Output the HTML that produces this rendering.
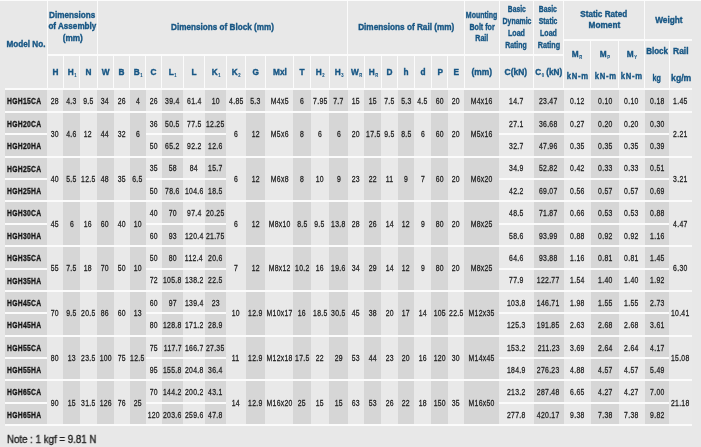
<!DOCTYPE html><html><head><meta charset="utf-8"><style>
html,body{margin:0;padding:0}
body{will-change:transform;width:701px;height:447px;background:#e8e8e8;position:relative;overflow:hidden;font-family:"Liberation Sans",sans-serif}
.r{position:absolute}
.t{position:absolute;width:120px;height:0;display:flex;justify-content:center;align-items:center;white-space:nowrap}
.t span{display:block;position:relative;flex:none;line-height:12px;height:12px}
.d span{font-size:9.8px;color:#1e1e1e;transform:scaleX(0.7);letter-spacing:0.4px;-webkit-text-stroke:0.3px #1e1e1e;top:0.7px}
.t.m{justify-content:flex-start;width:60px}
.m span{font-size:9.9px;color:#161616;font-weight:bold;transform:scaleX(0.685);letter-spacing:0.45px;transform-origin:0 50%;-webkit-text-stroke:0.35px #161616;top:0.8px}
.h span{font-size:9.6px;color:#175684;font-weight:bold;-webkit-text-stroke:0.4px #175684}
sub{font-size:4.8px;vertical-align:-1.8px;line-height:0;margin-left:0.6px;-webkit-text-stroke:0.1px #175684}
.note{position:absolute;left:6.6px;top:432px;font-size:10.8px;line-height:14px;color:#222;-webkit-text-stroke:0.35px #222;transform:scaleX(0.9);transform-origin:0 0;white-space:nowrap}
</style></head><body>
<div class="r" style="left:5px;top:90px;width:42px;height:334px;background:#d6d6d6"></div>
<div class="r" style="left:47px;top:90px;width:16px;height:334px;background:#e9e9e9"></div>
<div class="r" style="left:63px;top:90px;width:17px;height:334px;background:#d6d6d6"></div>
<div class="r" style="left:80px;top:90px;width:17px;height:334px;background:#e9e9e9"></div>
<div class="r" style="left:97px;top:90px;width:17px;height:334px;background:#d6d6d6"></div>
<div class="r" style="left:114px;top:90px;width:16px;height:334px;background:#e9e9e9"></div>
<div class="r" style="left:130px;top:90px;width:16px;height:334px;background:#d6d6d6"></div>
<div class="r" style="left:146px;top:90px;width:16px;height:334px;background:#e9e9e9"></div>
<div class="r" style="left:162px;top:90px;width:21px;height:334px;background:#d6d6d6"></div>
<div class="r" style="left:183px;top:90px;width:22px;height:334px;background:#e9e9e9"></div>
<div class="r" style="left:205px;top:90px;width:21px;height:334px;background:#d6d6d6"></div>
<div class="r" style="left:226px;top:90px;width:20px;height:334px;background:#e9e9e9"></div>
<div class="r" style="left:246px;top:90px;width:19px;height:334px;background:#d6d6d6"></div>
<div class="r" style="left:265px;top:90px;width:28px;height:334px;background:#e9e9e9"></div>
<div class="r" style="left:293px;top:90px;width:18px;height:334px;background:#d6d6d6"></div>
<div class="r" style="left:311px;top:90px;width:18px;height:334px;background:#e9e9e9"></div>
<div class="r" style="left:329px;top:90px;width:19px;height:334px;background:#d6d6d6"></div>
<div class="r" style="left:348px;top:90px;width:16px;height:334px;background:#e9e9e9"></div>
<div class="r" style="left:364px;top:90px;width:17px;height:334px;background:#d6d6d6"></div>
<div class="r" style="left:381px;top:90px;width:17px;height:334px;background:#e9e9e9"></div>
<div class="r" style="left:398px;top:90px;width:16px;height:334px;background:#d6d6d6"></div>
<div class="r" style="left:414px;top:90px;width:17px;height:334px;background:#e9e9e9"></div>
<div class="r" style="left:431px;top:90px;width:17px;height:334px;background:#d6d6d6"></div>
<div class="r" style="left:448px;top:90px;width:16px;height:334px;background:#e9e9e9"></div>
<div class="r" style="left:464px;top:90px;width:35px;height:334px;background:#d6d6d6"></div>
<div class="r" style="left:499px;top:90px;width:35px;height:334px;background:#e9e9e9"></div>
<div class="r" style="left:534px;top:90px;width:30px;height:334px;background:#d6d6d6"></div>
<div class="r" style="left:564px;top:90px;width:27px;height:334px;background:#e9e9e9"></div>
<div class="r" style="left:591px;top:90px;width:28px;height:334px;background:#d6d6d6"></div>
<div class="r" style="left:619px;top:90px;width:26px;height:334px;background:#e9e9e9"></div>
<div class="r" style="left:645px;top:90px;width:24px;height:334px;background:#d6d6d6"></div>
<div class="r" style="left:669px;top:90px;width:23px;height:334px;background:#e9e9e9"></div>
<div class="r" style="left:5px;top:88px;width:687px;height:2px;background:#fbfbfb"></div>
<div class="r" style="left:5px;top:111px;width:687px;height:2px;background:#fbfbfb"></div>
<div class="r" style="left:5px;top:156px;width:687px;height:2px;background:#fbfbfb"></div>
<div class="r" style="left:205px;top:133px;width:21px;height:2px;background:#fbfbfb"></div>
<div class="r" style="left:499px;top:133px;width:35px;height:2px;background:#fbfbfb"></div>
<div class="r" style="left:162px;top:133px;width:21px;height:2px;background:#fbfbfb"></div>
<div class="r" style="left:534px;top:133px;width:30px;height:2px;background:#fbfbfb"></div>
<div class="r" style="left:591px;top:133px;width:28px;height:2px;background:#fbfbfb"></div>
<div class="r" style="left:619px;top:133px;width:26px;height:2px;background:#fbfbfb"></div>
<div class="r" style="left:645px;top:133px;width:24px;height:2px;background:#fbfbfb"></div>
<div class="r" style="left:564px;top:133px;width:27px;height:2px;background:#fbfbfb"></div>
<div class="r" style="left:146px;top:133px;width:16px;height:2px;background:#fbfbfb"></div>
<div class="r" style="left:5px;top:133px;width:42px;height:2px;background:#fbfbfb"></div>
<div class="r" style="left:183px;top:133px;width:22px;height:2px;background:#fbfbfb"></div>
<div class="r" style="left:5px;top:200px;width:687px;height:2px;background:#fbfbfb"></div>
<div class="r" style="left:205px;top:178px;width:21px;height:2px;background:#fbfbfb"></div>
<div class="r" style="left:499px;top:178px;width:35px;height:2px;background:#fbfbfb"></div>
<div class="r" style="left:162px;top:178px;width:21px;height:2px;background:#fbfbfb"></div>
<div class="r" style="left:534px;top:178px;width:30px;height:2px;background:#fbfbfb"></div>
<div class="r" style="left:591px;top:178px;width:28px;height:2px;background:#fbfbfb"></div>
<div class="r" style="left:619px;top:178px;width:26px;height:2px;background:#fbfbfb"></div>
<div class="r" style="left:645px;top:178px;width:24px;height:2px;background:#fbfbfb"></div>
<div class="r" style="left:564px;top:178px;width:27px;height:2px;background:#fbfbfb"></div>
<div class="r" style="left:146px;top:178px;width:16px;height:2px;background:#fbfbfb"></div>
<div class="r" style="left:5px;top:178px;width:42px;height:2px;background:#fbfbfb"></div>
<div class="r" style="left:183px;top:178px;width:22px;height:2px;background:#fbfbfb"></div>
<div class="r" style="left:5px;top:245px;width:687px;height:2px;background:#fbfbfb"></div>
<div class="r" style="left:205px;top:223px;width:21px;height:2px;background:#fbfbfb"></div>
<div class="r" style="left:499px;top:223px;width:35px;height:2px;background:#fbfbfb"></div>
<div class="r" style="left:162px;top:223px;width:21px;height:2px;background:#fbfbfb"></div>
<div class="r" style="left:534px;top:223px;width:30px;height:2px;background:#fbfbfb"></div>
<div class="r" style="left:591px;top:223px;width:28px;height:2px;background:#fbfbfb"></div>
<div class="r" style="left:619px;top:223px;width:26px;height:2px;background:#fbfbfb"></div>
<div class="r" style="left:645px;top:223px;width:24px;height:2px;background:#fbfbfb"></div>
<div class="r" style="left:564px;top:223px;width:27px;height:2px;background:#fbfbfb"></div>
<div class="r" style="left:146px;top:223px;width:16px;height:2px;background:#fbfbfb"></div>
<div class="r" style="left:5px;top:223px;width:42px;height:2px;background:#fbfbfb"></div>
<div class="r" style="left:183px;top:223px;width:22px;height:2px;background:#fbfbfb"></div>
<div class="r" style="left:5px;top:290px;width:687px;height:2px;background:#fbfbfb"></div>
<div class="r" style="left:205px;top:268px;width:21px;height:2px;background:#fbfbfb"></div>
<div class="r" style="left:499px;top:268px;width:35px;height:2px;background:#fbfbfb"></div>
<div class="r" style="left:162px;top:268px;width:21px;height:2px;background:#fbfbfb"></div>
<div class="r" style="left:534px;top:268px;width:30px;height:2px;background:#fbfbfb"></div>
<div class="r" style="left:591px;top:268px;width:28px;height:2px;background:#fbfbfb"></div>
<div class="r" style="left:619px;top:268px;width:26px;height:2px;background:#fbfbfb"></div>
<div class="r" style="left:645px;top:268px;width:24px;height:2px;background:#fbfbfb"></div>
<div class="r" style="left:564px;top:268px;width:27px;height:2px;background:#fbfbfb"></div>
<div class="r" style="left:146px;top:268px;width:16px;height:2px;background:#fbfbfb"></div>
<div class="r" style="left:5px;top:268px;width:42px;height:2px;background:#fbfbfb"></div>
<div class="r" style="left:183px;top:268px;width:22px;height:2px;background:#fbfbfb"></div>
<div class="r" style="left:5px;top:335px;width:687px;height:2px;background:#fbfbfb"></div>
<div class="r" style="left:205px;top:312px;width:21px;height:2px;background:#fbfbfb"></div>
<div class="r" style="left:499px;top:312px;width:35px;height:2px;background:#fbfbfb"></div>
<div class="r" style="left:162px;top:312px;width:21px;height:2px;background:#fbfbfb"></div>
<div class="r" style="left:534px;top:312px;width:30px;height:2px;background:#fbfbfb"></div>
<div class="r" style="left:591px;top:312px;width:28px;height:2px;background:#fbfbfb"></div>
<div class="r" style="left:619px;top:312px;width:26px;height:2px;background:#fbfbfb"></div>
<div class="r" style="left:645px;top:312px;width:24px;height:2px;background:#fbfbfb"></div>
<div class="r" style="left:564px;top:312px;width:27px;height:2px;background:#fbfbfb"></div>
<div class="r" style="left:146px;top:312px;width:16px;height:2px;background:#fbfbfb"></div>
<div class="r" style="left:5px;top:312px;width:42px;height:2px;background:#fbfbfb"></div>
<div class="r" style="left:183px;top:312px;width:22px;height:2px;background:#fbfbfb"></div>
<div class="r" style="left:5px;top:379px;width:687px;height:2px;background:#fbfbfb"></div>
<div class="r" style="left:205px;top:357px;width:21px;height:2px;background:#fbfbfb"></div>
<div class="r" style="left:499px;top:357px;width:35px;height:2px;background:#fbfbfb"></div>
<div class="r" style="left:162px;top:357px;width:21px;height:2px;background:#fbfbfb"></div>
<div class="r" style="left:534px;top:357px;width:30px;height:2px;background:#fbfbfb"></div>
<div class="r" style="left:591px;top:357px;width:28px;height:2px;background:#fbfbfb"></div>
<div class="r" style="left:619px;top:357px;width:26px;height:2px;background:#fbfbfb"></div>
<div class="r" style="left:645px;top:357px;width:24px;height:2px;background:#fbfbfb"></div>
<div class="r" style="left:564px;top:357px;width:27px;height:2px;background:#fbfbfb"></div>
<div class="r" style="left:146px;top:357px;width:16px;height:2px;background:#fbfbfb"></div>
<div class="r" style="left:5px;top:357px;width:42px;height:2px;background:#fbfbfb"></div>
<div class="r" style="left:183px;top:357px;width:22px;height:2px;background:#fbfbfb"></div>
<div class="r" style="left:5px;top:424px;width:687px;height:2px;background:#fbfbfb"></div>
<div class="r" style="left:205px;top:402px;width:21px;height:2px;background:#fbfbfb"></div>
<div class="r" style="left:499px;top:402px;width:35px;height:2px;background:#fbfbfb"></div>
<div class="r" style="left:162px;top:402px;width:21px;height:2px;background:#fbfbfb"></div>
<div class="r" style="left:534px;top:402px;width:30px;height:2px;background:#fbfbfb"></div>
<div class="r" style="left:591px;top:402px;width:28px;height:2px;background:#fbfbfb"></div>
<div class="r" style="left:619px;top:402px;width:26px;height:2px;background:#fbfbfb"></div>
<div class="r" style="left:645px;top:402px;width:24px;height:2px;background:#fbfbfb"></div>
<div class="r" style="left:564px;top:402px;width:27px;height:2px;background:#fbfbfb"></div>
<div class="r" style="left:146px;top:402px;width:16px;height:2px;background:#fbfbfb"></div>
<div class="r" style="left:5px;top:402px;width:42px;height:2px;background:#fbfbfb"></div>
<div class="r" style="left:183px;top:402px;width:22px;height:2px;background:#fbfbfb"></div>
<div class="r" style="left:0px;top:0px;width:701px;height:1px;background:#fbfbfb"></div>
<div class="r" style="left:47px;top:54px;width:517px;height:2px;background:#fbfbfb"></div>
<div class="r" style="left:564px;top:39px;width:128px;height:2px;background:#fbfbfb"></div>
<div class="r" style="left:47px;top:1px;width:1px;height:87px;background:#fbfbfb"></div>
<div class="r" style="left:97px;top:1px;width:1px;height:87px;background:#fbfbfb"></div>
<div class="r" style="left:347px;top:1px;width:1px;height:87px;background:#fbfbfb"></div>
<div class="r" style="left:464px;top:1px;width:1px;height:87px;background:#fbfbfb"></div>
<div class="r" style="left:499px;top:1px;width:1px;height:87px;background:#fbfbfb"></div>
<div class="r" style="left:533px;top:1px;width:1px;height:87px;background:#fbfbfb"></div>
<div class="r" style="left:563px;top:1px;width:1px;height:87px;background:#fbfbfb"></div>
<div class="r" style="left:644px;top:1px;width:1px;height:87px;background:#fbfbfb"></div>
<div class="r" style="left:63px;top:55px;width:1px;height:33px;background:#fbfbfb"></div>
<div class="r" style="left:79px;top:55px;width:1px;height:33px;background:#fbfbfb"></div>
<div class="r" style="left:113px;top:55px;width:1px;height:33px;background:#fbfbfb"></div>
<div class="r" style="left:129px;top:55px;width:1px;height:33px;background:#fbfbfb"></div>
<div class="r" style="left:145px;top:55px;width:1px;height:33px;background:#fbfbfb"></div>
<div class="r" style="left:161px;top:55px;width:1px;height:33px;background:#fbfbfb"></div>
<div class="r" style="left:183px;top:55px;width:1px;height:33px;background:#fbfbfb"></div>
<div class="r" style="left:204px;top:55px;width:1px;height:33px;background:#fbfbfb"></div>
<div class="r" style="left:226px;top:55px;width:1px;height:33px;background:#fbfbfb"></div>
<div class="r" style="left:245px;top:55px;width:1px;height:33px;background:#fbfbfb"></div>
<div class="r" style="left:265px;top:55px;width:1px;height:33px;background:#fbfbfb"></div>
<div class="r" style="left:293px;top:55px;width:1px;height:33px;background:#fbfbfb"></div>
<div class="r" style="left:310px;top:55px;width:1px;height:33px;background:#fbfbfb"></div>
<div class="r" style="left:329px;top:55px;width:1px;height:33px;background:#fbfbfb"></div>
<div class="r" style="left:364px;top:55px;width:1px;height:33px;background:#fbfbfb"></div>
<div class="r" style="left:381px;top:55px;width:1px;height:33px;background:#fbfbfb"></div>
<div class="r" style="left:397px;top:55px;width:1px;height:33px;background:#fbfbfb"></div>
<div class="r" style="left:414px;top:55px;width:1px;height:33px;background:#fbfbfb"></div>
<div class="r" style="left:431px;top:55px;width:1px;height:33px;background:#fbfbfb"></div>
<div class="r" style="left:447px;top:55px;width:1px;height:33px;background:#fbfbfb"></div>
<div class="r" style="left:590px;top:40px;width:1px;height:48px;background:#fbfbfb"></div>
<div class="r" style="left:618px;top:40px;width:1px;height:48px;background:#fbfbfb"></div>
<div class="r" style="left:669px;top:40px;width:1px;height:48px;background:#fbfbfb"></div>
<div class="t m" style="left:7px;top:100.59px"><span>HGH15CA</span></div>
<div class="t d" style="left:-4.70px;top:100.59px"><span>28</span></div>
<div class="t d" style="left:11.45px;top:100.59px"><span>4.3</span></div>
<div class="t d" style="left:28.30px;top:100.59px"><span>9.5</span></div>
<div class="t d" style="left:45.30px;top:100.59px"><span>34</span></div>
<div class="t d" style="left:61.60px;top:100.59px"><span>26</span></div>
<div class="t d" style="left:77.65px;top:100.59px"><span>4</span></div>
<div class="t d" style="left:93.60px;top:100.59px"><span>26</span></div>
<div class="t d" style="left:112.45px;top:100.59px"><span>39.4</span></div>
<div class="t d" style="left:134.15px;top:100.59px"><span>61.4</span></div>
<div class="t d" style="left:155.50px;top:100.59px"><span>10</span></div>
<div class="t d" style="left:175.85px;top:100.59px"><span>4.85</span></div>
<div class="t d" style="left:195.55px;top:100.59px"><span>5.3</span></div>
<div class="t d" style="left:219.40px;top:100.59px"><span>M4x5</span></div>
<div class="t d" style="left:242.00px;top:100.59px"><span>6</span></div>
<div class="t d" style="left:259.90px;top:100.59px"><span>7.95</span></div>
<div class="t d" style="left:278.45px;top:100.59px"><span>7.7</span></div>
<div class="t d" style="left:296.10px;top:100.59px"><span>15</span></div>
<div class="t d" style="left:312.95px;top:100.59px"><span>15</span></div>
<div class="t d" style="left:329.60px;top:100.59px"><span>7.5</span></div>
<div class="t d" style="left:346.00px;top:100.59px"><span>5.3</span></div>
<div class="t d" style="left:362.75px;top:100.59px"><span>4.5</span></div>
<div class="t d" style="left:379.55px;top:100.59px"><span>60</span></div>
<div class="t d" style="left:396.15px;top:100.59px"><span>20</span></div>
<div class="t d" style="left:421.95px;top:100.59px"><span>M4x16</span></div>
<div class="t d" style="left:456.50px;top:100.59px"><span>14.7</span></div>
<div class="t d" style="left:488.60px;top:100.59px"><span>23.47</span></div>
<div class="t d" style="left:517.20px;top:100.59px"><span>0.12</span></div>
<div class="t d" style="left:544.90px;top:100.59px"><span>0.10</span></div>
<div class="t d" style="left:571.80px;top:100.59px"><span>0.10</span></div>
<div class="t d" style="left:596.85px;top:100.59px"><span>0.18</span></div>
<div class="t d" style="left:620.55px;top:100.59px"><span>1.45</span></div>
<div class="t m" style="left:7px;top:122.99px"><span>HGH20CA</span></div>
<div class="t m" style="left:7px;top:145.38px"><span>HGH20HA</span></div>
<div class="t d" style="left:-4.70px;top:133.28px"><span>30</span></div>
<div class="t d" style="left:11.45px;top:133.28px"><span>4.6</span></div>
<div class="t d" style="left:28.30px;top:133.28px"><span>12</span></div>
<div class="t d" style="left:45.30px;top:133.28px"><span>44</span></div>
<div class="t d" style="left:61.60px;top:133.28px"><span>32</span></div>
<div class="t d" style="left:77.65px;top:133.28px"><span>6</span></div>
<div class="t d" style="left:175.85px;top:133.28px"><span>6</span></div>
<div class="t d" style="left:195.55px;top:133.28px"><span>12</span></div>
<div class="t d" style="left:219.40px;top:133.28px"><span>M5x6</span></div>
<div class="t d" style="left:242.00px;top:133.28px"><span>8</span></div>
<div class="t d" style="left:259.90px;top:133.28px"><span>6</span></div>
<div class="t d" style="left:278.45px;top:133.28px"><span>6</span></div>
<div class="t d" style="left:296.10px;top:133.28px"><span>20</span></div>
<div class="t d" style="left:312.95px;top:133.28px"><span>17.5</span></div>
<div class="t d" style="left:329.60px;top:133.28px"><span>9.5</span></div>
<div class="t d" style="left:346.00px;top:133.28px"><span>8.5</span></div>
<div class="t d" style="left:362.75px;top:133.28px"><span>6</span></div>
<div class="t d" style="left:379.55px;top:133.28px"><span>60</span></div>
<div class="t d" style="left:396.15px;top:133.28px"><span>20</span></div>
<div class="t d" style="left:421.95px;top:133.28px"><span>M5x16</span></div>
<div class="t d" style="left:620.55px;top:133.28px"><span>2.21</span></div>
<div class="t d" style="left:93.60px;top:122.99px"><span>36</span></div>
<div class="t d" style="left:93.60px;top:145.38px"><span>50</span></div>
<div class="t d" style="left:112.45px;top:122.99px"><span>50.5</span></div>
<div class="t d" style="left:112.45px;top:145.38px"><span>65.2</span></div>
<div class="t d" style="left:134.15px;top:122.99px"><span>77.5</span></div>
<div class="t d" style="left:134.15px;top:145.38px"><span>92.2</span></div>
<div class="t d" style="left:155.50px;top:122.99px"><span>12.25</span></div>
<div class="t d" style="left:155.50px;top:145.38px"><span>12.6</span></div>
<div class="t d" style="left:456.50px;top:122.99px"><span>27.1</span></div>
<div class="t d" style="left:456.50px;top:145.38px"><span>32.7</span></div>
<div class="t d" style="left:488.60px;top:122.99px"><span>36.68</span></div>
<div class="t d" style="left:488.60px;top:145.38px"><span>47.96</span></div>
<div class="t d" style="left:517.20px;top:122.99px"><span>0.27</span></div>
<div class="t d" style="left:517.20px;top:145.38px"><span>0.35</span></div>
<div class="t d" style="left:544.90px;top:122.99px"><span>0.20</span></div>
<div class="t d" style="left:544.90px;top:145.38px"><span>0.35</span></div>
<div class="t d" style="left:571.80px;top:122.99px"><span>0.20</span></div>
<div class="t d" style="left:571.80px;top:145.38px"><span>0.35</span></div>
<div class="t d" style="left:596.85px;top:122.99px"><span>0.30</span></div>
<div class="t d" style="left:596.85px;top:145.38px"><span>0.39</span></div>
<div class="t m" style="left:7px;top:167.76px"><span>HGH25CA</span></div>
<div class="t m" style="left:7px;top:190.16px"><span>HGH25HA</span></div>
<div class="t d" style="left:-4.70px;top:178.06px"><span>40</span></div>
<div class="t d" style="left:11.45px;top:178.06px"><span>5.5</span></div>
<div class="t d" style="left:28.30px;top:178.06px"><span>12.5</span></div>
<div class="t d" style="left:45.30px;top:178.06px"><span>48</span></div>
<div class="t d" style="left:61.60px;top:178.06px"><span>35</span></div>
<div class="t d" style="left:77.65px;top:178.06px"><span>6.5</span></div>
<div class="t d" style="left:175.85px;top:178.06px"><span>6</span></div>
<div class="t d" style="left:195.55px;top:178.06px"><span>12</span></div>
<div class="t d" style="left:219.40px;top:178.06px"><span>M6x8</span></div>
<div class="t d" style="left:242.00px;top:178.06px"><span>8</span></div>
<div class="t d" style="left:259.90px;top:178.06px"><span>10</span></div>
<div class="t d" style="left:278.45px;top:178.06px"><span>9</span></div>
<div class="t d" style="left:296.10px;top:178.06px"><span>23</span></div>
<div class="t d" style="left:312.95px;top:178.06px"><span>22</span></div>
<div class="t d" style="left:329.60px;top:178.06px"><span>11</span></div>
<div class="t d" style="left:346.00px;top:178.06px"><span>9</span></div>
<div class="t d" style="left:362.75px;top:178.06px"><span>7</span></div>
<div class="t d" style="left:379.55px;top:178.06px"><span>60</span></div>
<div class="t d" style="left:396.15px;top:178.06px"><span>20</span></div>
<div class="t d" style="left:421.95px;top:178.06px"><span>M6x20</span></div>
<div class="t d" style="left:620.55px;top:178.06px"><span>3.21</span></div>
<div class="t d" style="left:93.60px;top:167.76px"><span>35</span></div>
<div class="t d" style="left:93.60px;top:190.16px"><span>50</span></div>
<div class="t d" style="left:112.45px;top:167.76px"><span>58</span></div>
<div class="t d" style="left:112.45px;top:190.16px"><span>78.6</span></div>
<div class="t d" style="left:134.15px;top:167.76px"><span>84</span></div>
<div class="t d" style="left:134.15px;top:190.16px"><span>104.6</span></div>
<div class="t d" style="left:155.50px;top:167.76px"><span>15.7</span></div>
<div class="t d" style="left:155.50px;top:190.16px"><span>18.5</span></div>
<div class="t d" style="left:456.50px;top:167.76px"><span>34.9</span></div>
<div class="t d" style="left:456.50px;top:190.16px"><span>42.2</span></div>
<div class="t d" style="left:488.60px;top:167.76px"><span>52.82</span></div>
<div class="t d" style="left:488.60px;top:190.16px"><span>69.07</span></div>
<div class="t d" style="left:517.20px;top:167.76px"><span>0.42</span></div>
<div class="t d" style="left:517.20px;top:190.16px"><span>0.56</span></div>
<div class="t d" style="left:544.90px;top:167.76px"><span>0.33</span></div>
<div class="t d" style="left:544.90px;top:190.16px"><span>0.57</span></div>
<div class="t d" style="left:571.80px;top:167.76px"><span>0.33</span></div>
<div class="t d" style="left:571.80px;top:190.16px"><span>0.57</span></div>
<div class="t d" style="left:596.85px;top:167.76px"><span>0.51</span></div>
<div class="t d" style="left:596.85px;top:190.16px"><span>0.69</span></div>
<div class="t m" style="left:7px;top:212.55px"><span>HGH30CA</span></div>
<div class="t m" style="left:7px;top:234.94px"><span>HGH30HA</span></div>
<div class="t d" style="left:-4.70px;top:222.84px"><span>45</span></div>
<div class="t d" style="left:11.45px;top:222.84px"><span>6</span></div>
<div class="t d" style="left:28.30px;top:222.84px"><span>16</span></div>
<div class="t d" style="left:45.30px;top:222.84px"><span>60</span></div>
<div class="t d" style="left:61.60px;top:222.84px"><span>40</span></div>
<div class="t d" style="left:77.65px;top:222.84px"><span>10</span></div>
<div class="t d" style="left:175.85px;top:222.84px"><span>6</span></div>
<div class="t d" style="left:195.55px;top:222.84px"><span>12</span></div>
<div class="t d" style="left:219.40px;top:222.84px"><span>M8x10</span></div>
<div class="t d" style="left:242.00px;top:222.84px"><span>8.5</span></div>
<div class="t d" style="left:259.90px;top:222.84px"><span>9.5</span></div>
<div class="t d" style="left:278.45px;top:222.84px"><span>13.8</span></div>
<div class="t d" style="left:296.10px;top:222.84px"><span>28</span></div>
<div class="t d" style="left:312.95px;top:222.84px"><span>26</span></div>
<div class="t d" style="left:329.60px;top:222.84px"><span>14</span></div>
<div class="t d" style="left:346.00px;top:222.84px"><span>12</span></div>
<div class="t d" style="left:362.75px;top:222.84px"><span>9</span></div>
<div class="t d" style="left:379.55px;top:222.84px"><span>80</span></div>
<div class="t d" style="left:396.15px;top:222.84px"><span>20</span></div>
<div class="t d" style="left:421.95px;top:222.84px"><span>M8x25</span></div>
<div class="t d" style="left:620.55px;top:222.84px"><span>4.47</span></div>
<div class="t d" style="left:93.60px;top:212.55px"><span>40</span></div>
<div class="t d" style="left:93.60px;top:234.94px"><span>60</span></div>
<div class="t d" style="left:112.45px;top:212.55px"><span>70</span></div>
<div class="t d" style="left:112.45px;top:234.94px"><span>93</span></div>
<div class="t d" style="left:134.15px;top:212.55px"><span>97.4</span></div>
<div class="t d" style="left:134.15px;top:234.94px"><span>120.4</span></div>
<div class="t d" style="left:155.50px;top:212.55px"><span>20.25</span></div>
<div class="t d" style="left:155.50px;top:234.94px"><span>21.75</span></div>
<div class="t d" style="left:456.50px;top:212.55px"><span>48.5</span></div>
<div class="t d" style="left:456.50px;top:234.94px"><span>58.6</span></div>
<div class="t d" style="left:488.60px;top:212.55px"><span>71.87</span></div>
<div class="t d" style="left:488.60px;top:234.94px"><span>93.99</span></div>
<div class="t d" style="left:517.20px;top:212.55px"><span>0.66</span></div>
<div class="t d" style="left:517.20px;top:234.94px"><span>0.88</span></div>
<div class="t d" style="left:544.90px;top:212.55px"><span>0.53</span></div>
<div class="t d" style="left:544.90px;top:234.94px"><span>0.92</span></div>
<div class="t d" style="left:571.80px;top:212.55px"><span>0.53</span></div>
<div class="t d" style="left:571.80px;top:234.94px"><span>0.92</span></div>
<div class="t d" style="left:596.85px;top:212.55px"><span>0.88</span></div>
<div class="t d" style="left:596.85px;top:234.94px"><span>1.16</span></div>
<div class="t m" style="left:7px;top:257.32px"><span>HGH35CA</span></div>
<div class="t m" style="left:7px;top:279.71px"><span>HGH35HA</span></div>
<div class="t d" style="left:-4.70px;top:267.62px"><span>55</span></div>
<div class="t d" style="left:11.45px;top:267.62px"><span>7.5</span></div>
<div class="t d" style="left:28.30px;top:267.62px"><span>18</span></div>
<div class="t d" style="left:45.30px;top:267.62px"><span>70</span></div>
<div class="t d" style="left:61.60px;top:267.62px"><span>50</span></div>
<div class="t d" style="left:77.65px;top:267.62px"><span>10</span></div>
<div class="t d" style="left:175.85px;top:267.62px"><span>7</span></div>
<div class="t d" style="left:195.55px;top:267.62px"><span>12</span></div>
<div class="t d" style="left:219.40px;top:267.62px"><span>M8x12</span></div>
<div class="t d" style="left:242.00px;top:267.62px"><span>10.2</span></div>
<div class="t d" style="left:259.90px;top:267.62px"><span>16</span></div>
<div class="t d" style="left:278.45px;top:267.62px"><span>19.6</span></div>
<div class="t d" style="left:296.10px;top:267.62px"><span>34</span></div>
<div class="t d" style="left:312.95px;top:267.62px"><span>29</span></div>
<div class="t d" style="left:329.60px;top:267.62px"><span>14</span></div>
<div class="t d" style="left:346.00px;top:267.62px"><span>12</span></div>
<div class="t d" style="left:362.75px;top:267.62px"><span>9</span></div>
<div class="t d" style="left:379.55px;top:267.62px"><span>80</span></div>
<div class="t d" style="left:396.15px;top:267.62px"><span>20</span></div>
<div class="t d" style="left:421.95px;top:267.62px"><span>M8x25</span></div>
<div class="t d" style="left:620.55px;top:267.62px"><span>6.30</span></div>
<div class="t d" style="left:93.60px;top:257.32px"><span>50</span></div>
<div class="t d" style="left:93.60px;top:279.71px"><span>72</span></div>
<div class="t d" style="left:112.45px;top:257.32px"><span>80</span></div>
<div class="t d" style="left:112.45px;top:279.71px"><span>105.8</span></div>
<div class="t d" style="left:134.15px;top:257.32px"><span>112.4</span></div>
<div class="t d" style="left:134.15px;top:279.71px"><span>138.2</span></div>
<div class="t d" style="left:155.50px;top:257.32px"><span>20.6</span></div>
<div class="t d" style="left:155.50px;top:279.71px"><span>22.5</span></div>
<div class="t d" style="left:456.50px;top:257.32px"><span>64.6</span></div>
<div class="t d" style="left:456.50px;top:279.71px"><span>77.9</span></div>
<div class="t d" style="left:488.60px;top:257.32px"><span>93.88</span></div>
<div class="t d" style="left:488.60px;top:279.71px"><span>122.77</span></div>
<div class="t d" style="left:517.20px;top:257.32px"><span>1.16</span></div>
<div class="t d" style="left:517.20px;top:279.71px"><span>1.54</span></div>
<div class="t d" style="left:544.90px;top:257.32px"><span>0.81</span></div>
<div class="t d" style="left:544.90px;top:279.71px"><span>1.40</span></div>
<div class="t d" style="left:571.80px;top:257.32px"><span>0.81</span></div>
<div class="t d" style="left:571.80px;top:279.71px"><span>1.40</span></div>
<div class="t d" style="left:596.85px;top:257.32px"><span>1.45</span></div>
<div class="t d" style="left:596.85px;top:279.71px"><span>1.92</span></div>
<div class="t m" style="left:7px;top:302.11px"><span>HGH45CA</span></div>
<div class="t m" style="left:7px;top:324.50px"><span>HGH45HA</span></div>
<div class="t d" style="left:-4.70px;top:312.40px"><span>70</span></div>
<div class="t d" style="left:11.45px;top:312.40px"><span>9.5</span></div>
<div class="t d" style="left:28.30px;top:312.40px"><span>20.5</span></div>
<div class="t d" style="left:45.30px;top:312.40px"><span>86</span></div>
<div class="t d" style="left:61.60px;top:312.40px"><span>60</span></div>
<div class="t d" style="left:77.65px;top:312.40px"><span>13</span></div>
<div class="t d" style="left:175.85px;top:312.40px"><span>10</span></div>
<div class="t d" style="left:195.55px;top:312.40px"><span>12.9</span></div>
<div class="t d" style="left:219.40px;top:312.40px"><span>M10x17</span></div>
<div class="t d" style="left:242.00px;top:312.40px"><span>16</span></div>
<div class="t d" style="left:259.90px;top:312.40px"><span>18.5</span></div>
<div class="t d" style="left:278.45px;top:312.40px"><span>30.5</span></div>
<div class="t d" style="left:296.10px;top:312.40px"><span>45</span></div>
<div class="t d" style="left:312.95px;top:312.40px"><span>38</span></div>
<div class="t d" style="left:329.60px;top:312.40px"><span>20</span></div>
<div class="t d" style="left:346.00px;top:312.40px"><span>17</span></div>
<div class="t d" style="left:362.75px;top:312.40px"><span>14</span></div>
<div class="t d" style="left:379.55px;top:312.40px"><span>105</span></div>
<div class="t d" style="left:396.15px;top:312.40px"><span>22.5</span></div>
<div class="t d" style="left:421.95px;top:312.40px"><span>M12x35</span></div>
<div class="t d" style="left:620.55px;top:312.40px"><span>10.41</span></div>
<div class="t d" style="left:93.60px;top:302.11px"><span>60</span></div>
<div class="t d" style="left:93.60px;top:324.50px"><span>80</span></div>
<div class="t d" style="left:112.45px;top:302.11px"><span>97</span></div>
<div class="t d" style="left:112.45px;top:324.50px"><span>128.8</span></div>
<div class="t d" style="left:134.15px;top:302.11px"><span>139.4</span></div>
<div class="t d" style="left:134.15px;top:324.50px"><span>171.2</span></div>
<div class="t d" style="left:155.50px;top:302.11px"><span>23</span></div>
<div class="t d" style="left:155.50px;top:324.50px"><span>28.9</span></div>
<div class="t d" style="left:456.50px;top:302.11px"><span>103.8</span></div>
<div class="t d" style="left:456.50px;top:324.50px"><span>125.3</span></div>
<div class="t d" style="left:488.60px;top:302.11px"><span>146.71</span></div>
<div class="t d" style="left:488.60px;top:324.50px"><span>191.85</span></div>
<div class="t d" style="left:517.20px;top:302.11px"><span>1.98</span></div>
<div class="t d" style="left:517.20px;top:324.50px"><span>2.63</span></div>
<div class="t d" style="left:544.90px;top:302.11px"><span>1.55</span></div>
<div class="t d" style="left:544.90px;top:324.50px"><span>2.68</span></div>
<div class="t d" style="left:571.80px;top:302.11px"><span>1.55</span></div>
<div class="t d" style="left:571.80px;top:324.50px"><span>2.68</span></div>
<div class="t d" style="left:596.85px;top:302.11px"><span>2.73</span></div>
<div class="t d" style="left:596.85px;top:324.50px"><span>3.61</span></div>
<div class="t m" style="left:7px;top:346.89px"><span>HGH55CA</span></div>
<div class="t m" style="left:7px;top:369.28px"><span>HGH55HA</span></div>
<div class="t d" style="left:-4.70px;top:357.18px"><span>80</span></div>
<div class="t d" style="left:11.45px;top:357.18px"><span>13</span></div>
<div class="t d" style="left:28.30px;top:357.18px"><span>23.5</span></div>
<div class="t d" style="left:45.30px;top:357.18px"><span>100</span></div>
<div class="t d" style="left:61.60px;top:357.18px"><span>75</span></div>
<div class="t d" style="left:77.65px;top:357.18px"><span>12.5</span></div>
<div class="t d" style="left:175.85px;top:357.18px"><span>11</span></div>
<div class="t d" style="left:195.55px;top:357.18px"><span>12.9</span></div>
<div class="t d" style="left:219.40px;top:357.18px"><span>M12x18</span></div>
<div class="t d" style="left:242.00px;top:357.18px"><span>17.5</span></div>
<div class="t d" style="left:259.90px;top:357.18px"><span>22</span></div>
<div class="t d" style="left:278.45px;top:357.18px"><span>29</span></div>
<div class="t d" style="left:296.10px;top:357.18px"><span>53</span></div>
<div class="t d" style="left:312.95px;top:357.18px"><span>44</span></div>
<div class="t d" style="left:329.60px;top:357.18px"><span>23</span></div>
<div class="t d" style="left:346.00px;top:357.18px"><span>20</span></div>
<div class="t d" style="left:362.75px;top:357.18px"><span>16</span></div>
<div class="t d" style="left:379.55px;top:357.18px"><span>120</span></div>
<div class="t d" style="left:396.15px;top:357.18px"><span>30</span></div>
<div class="t d" style="left:421.95px;top:357.18px"><span>M14x45</span></div>
<div class="t d" style="left:620.55px;top:357.18px"><span>15.08</span></div>
<div class="t d" style="left:93.60px;top:346.89px"><span>75</span></div>
<div class="t d" style="left:93.60px;top:369.28px"><span>95</span></div>
<div class="t d" style="left:112.45px;top:346.89px"><span>117.7</span></div>
<div class="t d" style="left:112.45px;top:369.28px"><span>155.8</span></div>
<div class="t d" style="left:134.15px;top:346.89px"><span>166.7</span></div>
<div class="t d" style="left:134.15px;top:369.28px"><span>204.8</span></div>
<div class="t d" style="left:155.50px;top:346.89px"><span>27.35</span></div>
<div class="t d" style="left:155.50px;top:369.28px"><span>36.4</span></div>
<div class="t d" style="left:456.50px;top:346.89px"><span>153.2</span></div>
<div class="t d" style="left:456.50px;top:369.28px"><span>184.9</span></div>
<div class="t d" style="left:488.60px;top:346.89px"><span>211.23</span></div>
<div class="t d" style="left:488.60px;top:369.28px"><span>276.23</span></div>
<div class="t d" style="left:517.20px;top:346.89px"><span>3.69</span></div>
<div class="t d" style="left:517.20px;top:369.28px"><span>4.88</span></div>
<div class="t d" style="left:544.90px;top:346.89px"><span>2.64</span></div>
<div class="t d" style="left:544.90px;top:369.28px"><span>4.57</span></div>
<div class="t d" style="left:571.80px;top:346.89px"><span>2.64</span></div>
<div class="t d" style="left:571.80px;top:369.28px"><span>4.57</span></div>
<div class="t d" style="left:596.85px;top:346.89px"><span>4.17</span></div>
<div class="t d" style="left:596.85px;top:369.28px"><span>5.49</span></div>
<div class="t m" style="left:7px;top:391.67px"><span>HGH65CA</span></div>
<div class="t m" style="left:7px;top:414.06px"><span>HGH65HA</span></div>
<div class="t d" style="left:-4.70px;top:401.96px"><span>90</span></div>
<div class="t d" style="left:11.45px;top:401.96px"><span>15</span></div>
<div class="t d" style="left:28.30px;top:401.96px"><span>31.5</span></div>
<div class="t d" style="left:45.30px;top:401.96px"><span>126</span></div>
<div class="t d" style="left:61.60px;top:401.96px"><span>76</span></div>
<div class="t d" style="left:77.65px;top:401.96px"><span>25</span></div>
<div class="t d" style="left:175.85px;top:401.96px"><span>14</span></div>
<div class="t d" style="left:195.55px;top:401.96px"><span>12.9</span></div>
<div class="t d" style="left:219.40px;top:401.96px"><span>M16x20</span></div>
<div class="t d" style="left:242.00px;top:401.96px"><span>25</span></div>
<div class="t d" style="left:259.90px;top:401.96px"><span>15</span></div>
<div class="t d" style="left:278.45px;top:401.96px"><span>15</span></div>
<div class="t d" style="left:296.10px;top:401.96px"><span>63</span></div>
<div class="t d" style="left:312.95px;top:401.96px"><span>53</span></div>
<div class="t d" style="left:329.60px;top:401.96px"><span>26</span></div>
<div class="t d" style="left:346.00px;top:401.96px"><span>22</span></div>
<div class="t d" style="left:362.75px;top:401.96px"><span>18</span></div>
<div class="t d" style="left:379.55px;top:401.96px"><span>150</span></div>
<div class="t d" style="left:396.15px;top:401.96px"><span>35</span></div>
<div class="t d" style="left:421.95px;top:401.96px"><span>M16x50</span></div>
<div class="t d" style="left:620.55px;top:401.96px"><span>21.18</span></div>
<div class="t d" style="left:93.60px;top:391.67px"><span>70</span></div>
<div class="t d" style="left:93.60px;top:414.06px"><span>120</span></div>
<div class="t d" style="left:112.45px;top:391.67px"><span>144.2</span></div>
<div class="t d" style="left:112.45px;top:414.06px"><span>203.6</span></div>
<div class="t d" style="left:134.15px;top:391.67px"><span>200.2</span></div>
<div class="t d" style="left:134.15px;top:414.06px"><span>259.6</span></div>
<div class="t d" style="left:155.50px;top:391.67px"><span>43.1</span></div>
<div class="t d" style="left:155.50px;top:414.06px"><span>47.8</span></div>
<div class="t d" style="left:456.50px;top:391.67px"><span>213.2</span></div>
<div class="t d" style="left:456.50px;top:414.06px"><span>277.8</span></div>
<div class="t d" style="left:488.60px;top:391.67px"><span>287.48</span></div>
<div class="t d" style="left:488.60px;top:414.06px"><span>420.17</span></div>
<div class="t d" style="left:517.20px;top:391.67px"><span>6.65</span></div>
<div class="t d" style="left:517.20px;top:414.06px"><span>9.38</span></div>
<div class="t d" style="left:544.90px;top:391.67px"><span>4.27</span></div>
<div class="t d" style="left:544.90px;top:414.06px"><span>7.38</span></div>
<div class="t d" style="left:571.80px;top:391.67px"><span>4.27</span></div>
<div class="t d" style="left:571.80px;top:414.06px"><span>7.38</span></div>
<div class="t d" style="left:596.85px;top:391.67px"><span>7.00</span></div>
<div class="t d" style="left:596.85px;top:414.06px"><span>9.82</span></div>
<div class="t h" style="left:-34.15px;top:44.00px"><span style="transform:scaleX(0.850)">Model No.</span></div>
<div class="t h" style="left:12.50px;top:14.50px"><span style="transform:scaleX(0.850)">Dimensions</span></div>
<div class="t h" style="left:12.65px;top:26.40px"><span style="transform:scaleX(0.845)">of Assembly</span></div>
<div class="t h" style="left:12.30px;top:37.90px"><span style="transform:scaleX(0.860)">(mm)</span></div>
<div class="t h" style="left:162.65px;top:26.60px"><span style="transform:scaleX(0.850)">Dimensions of Block (mm)</span></div>
<div class="t h" style="left:346.25px;top:26.60px"><span style="transform:scaleX(0.855)">Dimensions of Rail (mm)</span></div>
<div class="t h" style="left:421.65px;top:15.20px"><span style="transform:scaleX(0.730)">Mounting</span></div>
<div class="t h" style="left:421.65px;top:27.00px"><span style="transform:scaleX(0.740)">Bolt for</span></div>
<div class="t h" style="left:421.75px;top:38.20px"><span style="transform:scaleX(0.740)">Rail</span></div>
<div class="t h" style="left:456.45px;top:8.80px"><span style="transform:scaleX(0.700)">Basic</span></div>
<div class="t h" style="left:456.60px;top:21.00px"><span style="transform:scaleX(0.720)">Dynamic</span></div>
<div class="t h" style="left:456.20px;top:32.80px"><span style="transform:scaleX(0.740)">Load</span></div>
<div class="t h" style="left:456.40px;top:44.60px"><span style="transform:scaleX(0.720)">Rating</span></div>
<div class="t h" style="left:488.30px;top:8.80px"><span style="transform:scaleX(0.710)">Basic</span></div>
<div class="t h" style="left:488.45px;top:21.00px"><span style="transform:scaleX(0.710)">Static</span></div>
<div class="t h" style="left:488.55px;top:32.80px"><span style="transform:scaleX(0.730)">Load</span></div>
<div class="t h" style="left:488.70px;top:44.60px"><span style="transform:scaleX(0.750)">Rating</span></div>
<div class="t h" style="left:543.70px;top:13.60px"><span style="transform:scaleX(0.845)">Static Rated</span></div>
<div class="t h" style="left:543.90px;top:25.30px"><span style="transform:scaleX(0.860)">Moment</span></div>
<div class="t h" style="left:608.55px;top:20.00px"><span style="transform:scaleX(0.860)">Weight</span></div>
<div class="t h" style="left:421.75px;top:71.60px"><span style="transform:scaleX(0.880)">(mm)</span></div>
<div class="t h" style="left:456.20px;top:71.80px"><span style="transform:scaleX(0.880)">C(kN)</span></div>
<div class="t h" style="left:488.70px;top:71.80px"><span style="transform:scaleX(0.860)">C<sub>0</sub> (kN)</span></div>
<div class="t h" style="left:596.90px;top:51.30px"><span style="transform:scaleX(0.835)">Block</span></div>
<div class="t h" style="left:621.05px;top:51.30px"><span style="transform:scaleX(0.880)">Rail</span></div>
<div class="t h" style="left:596.60px;top:78.20px"><span style="transform:scaleX(0.740)">kg</span></div>
<div class="t h" style="left:620.90px;top:78.20px"><span style="transform:scaleX(0.900)">kg/m</span></div>
<div class="t h" style="left:517.00px;top:75.80px"><span style="transform:scaleX(0.800);letter-spacing:0.9px;margin-left:0.9px">kN-m</span></div>
<div class="t h" style="left:544.90px;top:75.80px"><span style="transform:scaleX(0.800);letter-spacing:0.9px;margin-left:0.9px">kN-m</span></div>
<div class="t h" style="left:571.80px;top:75.80px"><span style="transform:scaleX(0.800);letter-spacing:0.9px;margin-left:0.9px">kN-m</span></div>
<div class="t h" style="left:517.30px;top:53.80px"><span style="transform:scaleX(0.860)">M<sub>R</sub></span></div>
<div class="t h" style="left:545.10px;top:54.00px"><span style="transform:scaleX(0.860)">M<sub>P</sub></span></div>
<div class="t h" style="left:571.50px;top:54.40px"><span style="transform:scaleX(0.860)">M<sub>Y</sub></span></div>
<div class="t h" style="left:-4.50px;top:72.00px"><span style="transform:scaleX(0.860)">H</span></div>
<div class="t h" style="left:11.65px;top:72.00px"><span style="transform:scaleX(0.860)">H<sub>1</sub></span></div>
<div class="t h" style="left:28.50px;top:72.00px"><span style="transform:scaleX(0.860)">N</span></div>
<div class="t h" style="left:45.50px;top:72.00px"><span style="transform:scaleX(0.860)">W</span></div>
<div class="t h" style="left:61.80px;top:72.00px"><span style="transform:scaleX(0.860)">B</span></div>
<div class="t h" style="left:77.85px;top:72.00px"><span style="transform:scaleX(0.860)">B<sub>1</sub></span></div>
<div class="t h" style="left:93.80px;top:72.00px"><span style="transform:scaleX(0.860)">C</span></div>
<div class="t h" style="left:112.65px;top:72.00px"><span style="transform:scaleX(0.860)">L<sub>1</sub></span></div>
<div class="t h" style="left:134.35px;top:72.00px"><span style="transform:scaleX(0.860)">L</span></div>
<div class="t h" style="left:155.70px;top:72.00px"><span style="transform:scaleX(0.860)">K<sub>1</sub></span></div>
<div class="t h" style="left:176.05px;top:72.00px"><span style="transform:scaleX(0.860)">K<sub>2</sub></span></div>
<div class="t h" style="left:195.75px;top:72.00px"><span style="transform:scaleX(0.860)">G</span></div>
<div class="t h" style="left:219.60px;top:72.00px"><span style="transform:scaleX(0.860)">Mxl</span></div>
<div class="t h" style="left:242.20px;top:72.00px"><span style="transform:scaleX(0.860)">T</span></div>
<div class="t h" style="left:260.10px;top:72.00px"><span style="transform:scaleX(0.860)">H<sub>2</sub></span></div>
<div class="t h" style="left:278.65px;top:72.00px"><span style="transform:scaleX(0.860)">H<sub>3</sub></span></div>
<div class="t h" style="left:296.30px;top:72.00px"><span style="transform:scaleX(0.860)">W<sub>R</sub></span></div>
<div class="t h" style="left:313.15px;top:72.00px"><span style="transform:scaleX(0.860)">H<sub>R</sub></span></div>
<div class="t h" style="left:329.80px;top:72.00px"><span style="transform:scaleX(0.860)">D</span></div>
<div class="t h" style="left:346.20px;top:72.00px"><span style="transform:scaleX(0.860)">h</span></div>
<div class="t h" style="left:362.95px;top:72.00px"><span style="transform:scaleX(0.860)">d</span></div>
<div class="t h" style="left:379.75px;top:72.00px"><span style="transform:scaleX(0.860)">P</span></div>
<div class="t h" style="left:396.35px;top:72.00px"><span style="transform:scaleX(0.860)">E</span></div>
<div class="note">Note : 1 kgf = 9.81 N</div>
</body></html>
